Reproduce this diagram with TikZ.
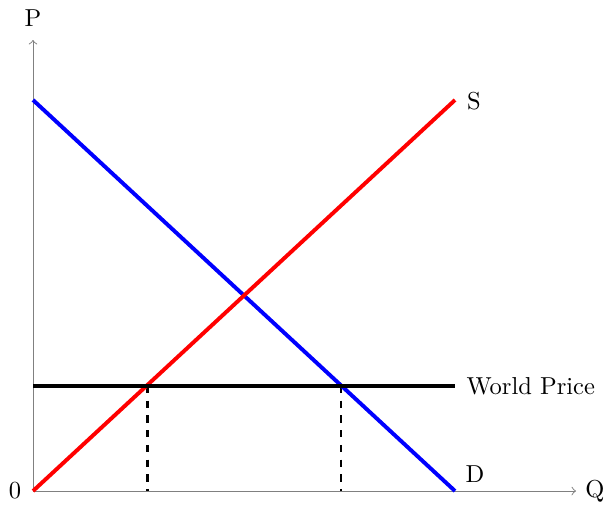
\documentclass[tikz,border=0pt]{standalone}
\usetikzlibrary{arrows}
\begin{document}
\begin{tikzpicture}[x=0.408pt,y=-0.408pt,
  axis/.style={gray,thin,->,>=to},
  curve/.style={ultra thick},
  guide/.style={line width=1pt,dashed},
  lbl/.style={inner sep=0pt}]
\useasboundingbox (0,0) rectangle (607,506);
\coordinate (O) at (33,491);
\coordinate (Ytop) at (33,40);
\coordinate (Xend) at (576,491);
\coordinate (Dtop) at (33,100);
\coordinate (Dbot) at (455,491);
\coordinate (Stop) at (455,100);
\coordinate (Wl) at (33,386);
\coordinate (Wr) at (455,386);
\coordinate (A) at (147.5,386);
\coordinate (B) at (341,386);
\coordinate (Ab) at (147.5,491);
\coordinate (Bb) at (341,491);
\draw[axis] (O) -- (Ytop);
\draw[axis] (O) -- (Xend);
\node[lbl] (P) at (33,18) {P};
\node[lbl] (Q) at (595,491) {Q};
\node[lbl] (zero) at (15,491) {0};
\draw[guide] (A) -- (Ab);
\draw[guide] (B) -- (Bb);
\draw[curve,blue] (Dtop) -- (Dbot);
\draw[curve,red] (O) -- (Stop);
\draw[curve,black] (Wl) -- (Wr);
\node[lbl] (S) at (474,101) {S};
\node[lbl] (D) at (475,474) {D};
\node[lbl,anchor=west] (W) at (466,386) {World Price};
\end{tikzpicture}
\end{document}
